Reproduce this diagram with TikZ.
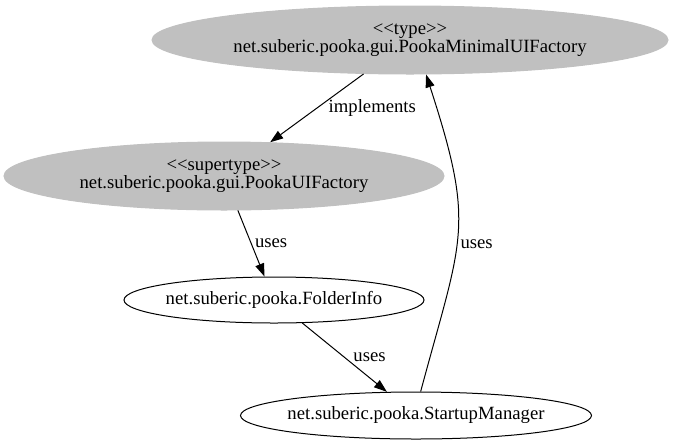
\documentclass[tikz,border=0pt]{standalone}
\usepackage{fontspec}
\setmainfont{Liberation Serif}[Ligatures=TeXOff]
\usetikzlibrary{shapes.geometric,arrows.meta}
\definecolor{umlgray}{HTML}{C0C0C0}
\begin{document}
\begin{tikzpicture}[x=1pt, y=-1pt,
  cls/.style={ellipse, draw, line width=1pt, inner sep=0pt, inner xsep=-12pt, align=center,
    font=\fontsize{18.7}{18}\selectfont},
  typed/.style={cls, draw=umlgray, fill=umlgray},
  dep/.style={line width=1pt, -{Triangle[length=13pt, width=9pt]}},
  lbl/.style={font=\fontsize{18.7}{18}\selectfont}]

  \useasboundingbox (0,0) rectangle (685,445);

  \node[typed, minimum width=516pt, minimum height=68pt] (minimalfactory) at (410,40)
    {<<type>>\\net.suberic.pooka.gui.PookaMinimalUIFactory};

  \node[typed, minimum width=440pt, minimum height=68pt] (uifactory) at (224,176)
    {<<supertype>>\\net.suberic.pooka.gui.PookaUIFactory};

  \node[cls, minimum width=300pt, minimum height=46pt] (folderinfo) at (274,300)
    {net.suberic.pooka.FolderInfo};

  \node[cls, minimum width=351pt, minimum height=47pt] (startup) at (416,415.5)
    {net.suberic.pooka.StartupManager};

  \draw[dep] (minimalfactory) -- (uifactory) node[lbl, midway, right, xshift=8pt] {implements};

  \draw[dep] (uifactory) -- (folderinfo) node[lbl, midway, right] {uses};

  \draw[dep] (folderinfo) -- (startup) node[lbl, midway, right, xshift=5pt] {uses};

  \draw[dep] (startup.79) to[out=75, in=-72, looseness=1.3] node[lbl, pos=.45, right] {uses} (minimalfactory.-65);

\end{tikzpicture}
\end{document}
